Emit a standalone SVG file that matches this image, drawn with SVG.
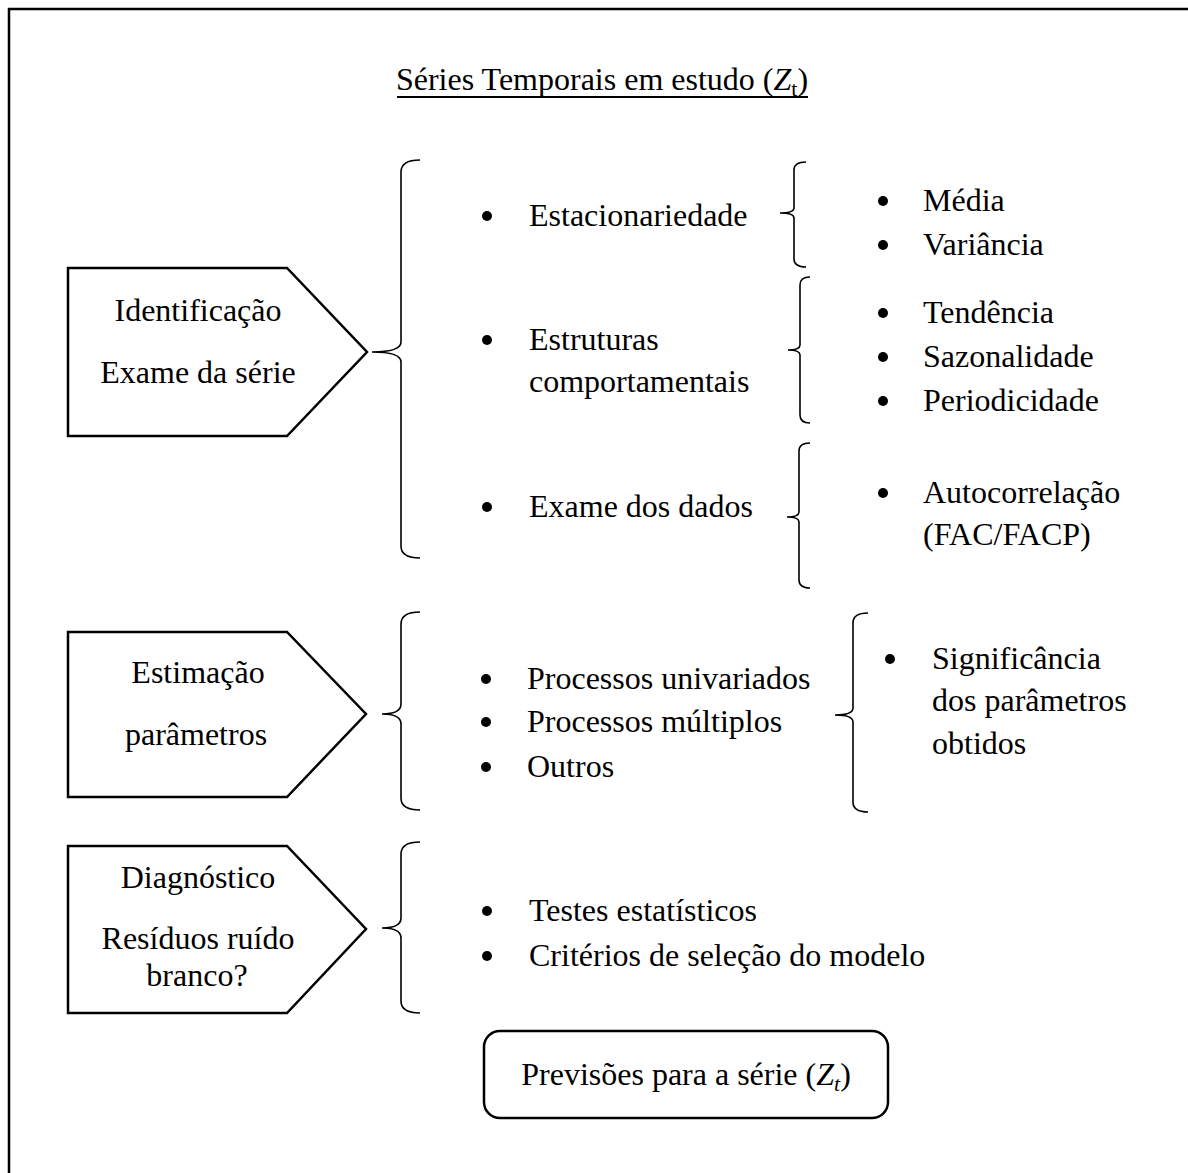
<svg xmlns="http://www.w3.org/2000/svg" width="1188" height="1173" viewBox="0 0 1188 1173">
<style>
text{font-family:"Liberation Serif","Times New Roman",serif;font-size:32px;fill:#000}
.c{text-anchor:middle}
.shape{fill:#fff;stroke:#000;stroke-width:2.5}
.brace{fill:none;stroke:#000;stroke-width:1.6}
.dot{fill:#000}
.m{font-style:italic}
</style>
<rect width="1188" height="1173" fill="#fff"/>
<path d="M9,1173 V9 H1188" fill="none" stroke="#000" stroke-width="2.5"/>

<g id="title">
<text x="602" y="90" class="c">Séries Temporais em estudo (<tspan class="m">Z</tspan><tspan font-size="22" dy="6">t</tspan><tspan dy="-6">)</tspan></text>
<line x1="397" y1="97" x2="808" y2="97" stroke="#000" stroke-width="1.8"/>
</g>

<g id="node-identificacao">
<polygon class="shape" points="68,268 287,268 367,352 287,436 68,436"/>
<text x="198" y="321" class="c">Identificação</text>
<text x="198" y="383" class="c">Exame da série</text>
</g>
<g id="node-estimacao">
<polygon class="shape" points="68,632 287,632 366,714 287,797 68,797"/>
<text x="198" y="683" class="c">Estimação</text>
<text x="196" y="745" class="c">parâmetros</text>
</g>
<g id="node-diagnostico">
<polygon class="shape" points="68,846 287,846 366,929 287,1013 68,1013"/>
<text x="198" y="888" class="c">Diagnóstico</text>
<text x="198" y="949" class="c">Resíduos ruído</text>
<text x="197" y="986" class="c">branco?</text>
</g>
<g id="node-previsoes">
<rect class="shape" x="484" y="1031" width="404" height="87" rx="16" ry="16" stroke-width="2"/>
<text x="686" y="1085" class="c">Previsões para a série (<tspan class="m">Z</tspan><tspan class="m" font-size="22" dy="6">t</tspan><tspan dy="-6">)</tspan></text>
</g>

<g id="connectors">
<path class="brace" d="M420,160 Q401,160 401,172 L401,342 Q401,352 372,352 Q401,352 401,362 L401,546 Q401,558 420,558"/>
<path class="brace" d="M420,612 Q401,612 401,624 L401,704 Q401,714 382,714 Q401,714 401,724 L401,798 Q401,810 420,810"/>
<path class="brace" d="M420,842 Q401,842 401,854 L401,918 Q401,928 382,928 Q401,928 401,938 L401,1001 Q401,1013 420,1013"/>
<path class="brace" d="M806,162 Q794,162 794,170 L794,208 Q794,213 780,213 Q794,213 794,218 L794,259 Q794,267 806,267"/>
<path class="brace" d="M810,277 Q800,277 800,285 L800,345 Q800,350 788,350 Q800,350 800,355 L800,415 Q800,423 810,423"/>
<path class="brace" d="M810,443 Q799,443 799,451 L799,512 Q799,517 787,517 Q799,517 799,522 L799,580 Q799,588 810,588"/>
<path class="brace" d="M868,613 Q853,613 853,623 L853,708 Q853,715 835,715 Q853,715 853,722 L853,802 Q853,812 868,812"/>
</g>

<g id="list-identificacao">
<circle class="dot" cx="487" cy="216" r="5"/><text x="529" y="226">Estacionariedade</text>
<circle class="dot" cx="487" cy="340" r="5"/><text x="529" y="350">Estruturas</text>
<text x="529" y="392">comportamentais</text>
<circle class="dot" cx="487" cy="507" r="5"/><text x="529" y="517">Exame dos dados</text>
</g>
<g id="list-estacionariedade">
<circle class="dot" cx="883" cy="201" r="5"/><text x="923" y="211">Média</text>
<circle class="dot" cx="883" cy="245" r="5"/><text x="923" y="255">Variância</text>
</g>
<g id="list-estruturas">
<circle class="dot" cx="883" cy="313" r="5"/><text x="923" y="323">Tendência</text>
<circle class="dot" cx="883" cy="357" r="5"/><text x="923" y="367">Sazonalidade</text>
<circle class="dot" cx="883" cy="401" r="5"/><text x="923" y="411">Periodicidade</text>
</g>
<g id="list-exame">
<circle class="dot" cx="883" cy="493" r="5"/><text x="923" y="503">Autocorrelação</text>
<text x="923" y="545">(FAC/FACP)</text>
</g>
<g id="list-estimacao">
<circle class="dot" cx="486" cy="679" r="5"/><text x="527" y="689">Processos univariados</text>
<circle class="dot" cx="486" cy="722" r="5"/><text x="527" y="732">Processos múltiplos</text>
<circle class="dot" cx="486" cy="767" r="5"/><text x="527" y="777">Outros</text>
</g>
<g id="list-significancia">
<circle class="dot" cx="890" cy="659" r="5"/><text x="932" y="669">Significância</text>
<text x="932" y="711">dos parâmetros</text>
<text x="932" y="754">obtidos</text>
</g>
<g id="list-diagnostico">
<circle class="dot" cx="487" cy="911" r="5"/><text x="529" y="921">Testes estatísticos</text>
<circle class="dot" cx="487" cy="956" r="5"/><text x="529" y="966">Critérios de seleção do modelo</text>
</g>
</svg>
